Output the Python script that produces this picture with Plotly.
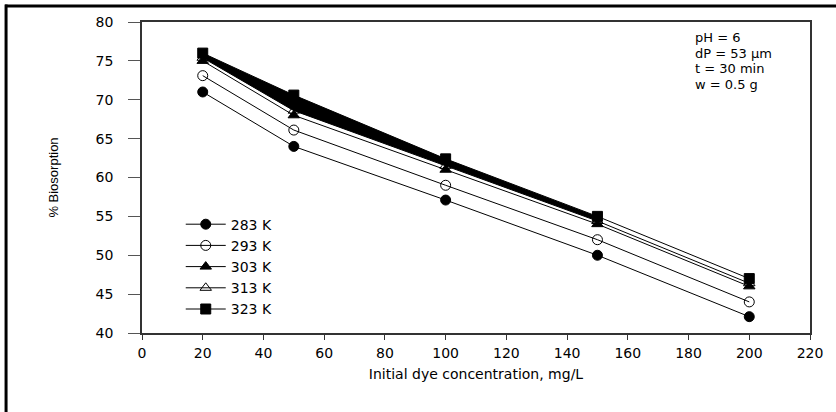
import plotly.graph_objects as go

conc = [20, 50, 100, 150, 200]
t283 = [71.0, 64.0, 57.1, 50.0, 42.1]
t293 = [73.1, 66.1, 59.0, 52.0, 44.0]
t303 = [75.0, 68.0, 61.0, 54.0, 46.0]
t313 = [75.4, 68.6, 61.5, 54.4, 46.4]
t323 = [76.0, 70.6, 62.4, 55.0, 47.0]
labels = ["283 K", "293 K", "303 K", "313 K", "323 K"]
symbols = ["circle", "circle-open", "triangle-up", "triangle-up-open", "square"]
series = [t283, t293, t303, t313, t323]
band_n = 4  # band between 313 K and 323 K drawn for first points

FONT = "DejaVu Sans"

fig = go.Figure()

# dark band between the 313 K and 323 K curves (as in the original figure)
fig.add_trace(go.Scatter(x=conc[:band_n], y=t313[:band_n], mode="lines",
                         line=dict(width=0, color="black"), showlegend=False,
                         hoverinfo="skip"))
fig.add_trace(go.Scatter(x=conc[:band_n], y=t323[:band_n], mode="lines",
                         line=dict(width=0, color="black"), fill="tonexty",
                         fillcolor="black", showlegend=False, hoverinfo="skip"))

for name, ys, sym in zip(labels, series, symbols):
    fig.add_trace(go.Scatter(
        x=conc, y=ys, mode="lines+markers", name=name,
        line=dict(color="black", width=1),
        marker=dict(symbol=sym, size=10, color="black",
                    line=dict(color="black", width=1)),
    ))

fig.update_layout(
    width=836, height=412,
    margin=dict(l=142, r=26, t=22, b=79),
    paper_bgcolor="white", plot_bgcolor="white",
    font=dict(family=FONT, size=13, color="black"),
    showlegend=True,
    legend=dict(x=0.058, y=0.40, xanchor="left", yanchor="top",
                traceorder="normal",
                bgcolor="rgba(0,0,0,0)", font=dict(family=FONT, size=14),
                itemwidth=40, tracegroupgap=0),
    xaxis=dict(range=[0, 220], tickvals=list(range(0, 221, 20)),
               showgrid=False, zeroline=False,
               showline=True, linecolor="#333", linewidth=1.5, mirror=True,
               ticks="outside", ticklen=5, tickcolor="#333",
               tickfont=dict(family=FONT, size=14),
               ticklabelstandoff=1,
               title=dict(text="Initial dye concentration, mg/L",
                          font=dict(family=FONT, size=14), standoff=10)),
    yaxis=dict(range=[40, 80], tickvals=list(range(40, 81, 5)),
               showgrid=False, zeroline=False,
               showline=True, linecolor="#333", linewidth=1.5, mirror=True,
               ticks="outside", ticklen=12, tickcolor="#555",
               tickfont=dict(family=FONT, size=14),
               ticklabelstandoff=12,
               title=dict(text="% Biosorption",
                          font=dict(family="Liberation Sans", size=13), standoff=34)),
)

# info text block (top right)
info = ["pH = 6", "dP = 53 \u00b5m", "t = 30 min", "w = 0.5 g"]
for i, txt in enumerate(info):
    fig.add_annotation(xref="paper", yref="paper", x=0.825, y=0.95 - i * 0.05,
                       xanchor="left", yanchor="middle", showarrow=False,
                       text=txt, font=dict(family=FONT, size=13))

# outer frame (top and left edges of the cropped figure)
fig.add_shape(type="line", xref="paper", yref="paper",
              x0=-0.205, x1=1.05, y0=1.0514, y1=1.0514,
              line=dict(color="black", width=3))
fig.add_shape(type="line", xref="paper", yref="paper",
              x0=-0.2035, x1=-0.2035, y0=1.056, y1=-0.3,
              line=dict(color="black", width=3))

fig.write_html("out.html")
